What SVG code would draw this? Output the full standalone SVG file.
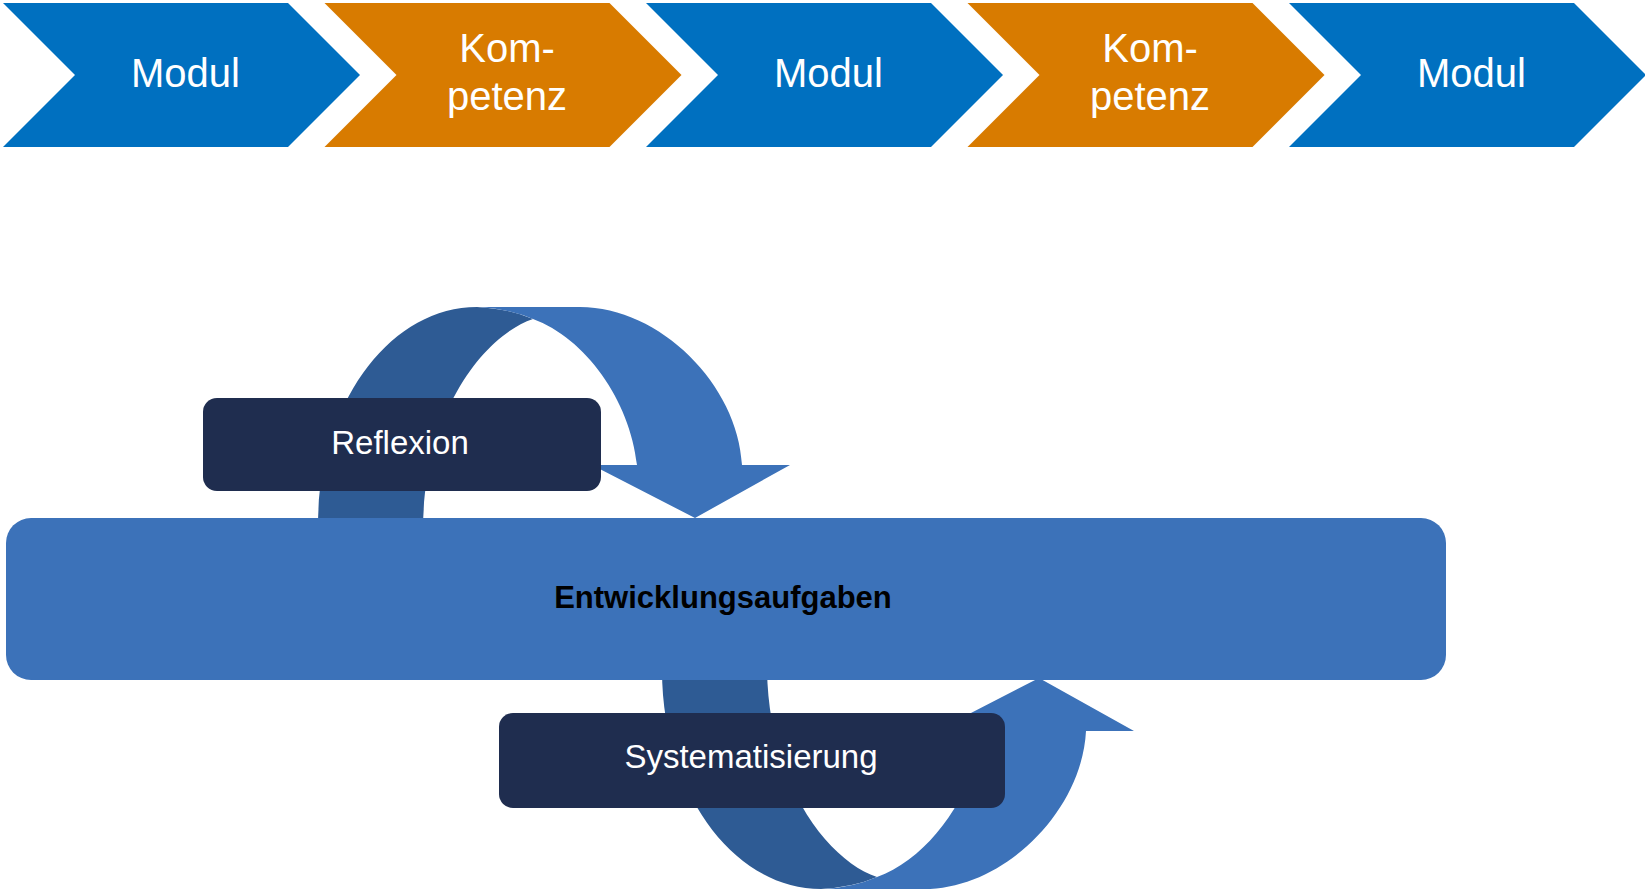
<svg xmlns="http://www.w3.org/2000/svg" width="1645" height="891" viewBox="0 0 1645 891">
<style>
.blue{fill:#0070C0}
.orange{fill:#D87B00}
.ctext{font-family:"Liberation Sans",Arial,sans-serif;font-size:40px;fill:#FFFFFF;text-anchor:middle}
.dark{fill:#2E5B94}
.light{fill:#3C72B9}
.navy{fill:#1F2D4F}
.ltext{font-family:"Liberation Sans",Arial,sans-serif;font-size:33px;fill:#FFFFFF;text-anchor:middle}
.mtext{font-family:"Liberation Sans",Arial,sans-serif;font-size:31px;font-weight:bold;fill:#000000;text-anchor:middle}
</style>
<defs>
<g id="arc">
<path class="dark" d="M318,530 L318,526 C318,405 389,307 477,307 Q510,309 533,319 C485,335 425,410 423,526 L423,530 Z"/>
<path class="light" d="M480,307 L580,307 C660,307 738,385 742,465 L790,465 L695,518 L592,465 L637,465 C630,400 585,338 533,319 Q510,309 480,307 Z"/>
</g>
</defs>
<g id="chev1"><polygon class="blue" points="3,3 288,3 360,75 288,147 3,147 75,75"/><text class="ctext" x="185.5" y="87">Modul</text></g>
<g id="chev2"><polygon class="orange" points="324.5,3 609.5,3 681.5,75 609.5,147 324.5,147 396.5,75"/><text class="ctext" x="507" y="62">Kom-</text><text class="ctext" x="507" y="110">petenz</text></g>
<g id="chev3"><polygon class="blue" points="646,3 931,3 1003,75 931,147 646,147 718,75"/><text class="ctext" x="828.5" y="87">Modul</text></g>
<g id="chev4"><polygon class="orange" points="967.5,3 1252.5,3 1324.5,75 1252.5,147 967.5,147 1039.5,75"/><text class="ctext" x="1150" y="62">Kom-</text><text class="ctext" x="1150" y="110">petenz</text></g>
<g id="chev5"><polygon class="blue" points="1289,3 1574,3 1646,75 1574,147 1289,147 1361,75"/><text class="ctext" x="1471.5" y="87">Modul</text></g>
<g id="connectors">
<use href="#arc"/>
<use href="#arc" transform="translate(344,1196) scale(1,-1)"/>
</g>
<g id="entwicklung"><rect class="light" x="6" y="518" width="1440" height="162" rx="25"/><text class="mtext" x="723" y="608">Entwicklungsaufgaben</text></g>
<g id="reflexion"><rect class="navy" x="203" y="398" width="398" height="93" rx="14"/><text class="ltext" x="400" y="454">Reflexion</text></g>
<g id="systematisierung"><rect class="navy" x="499" y="713" width="506" height="95" rx="14"/><text class="ltext" x="751" y="768">Systematisierung</text></g>
</svg>
